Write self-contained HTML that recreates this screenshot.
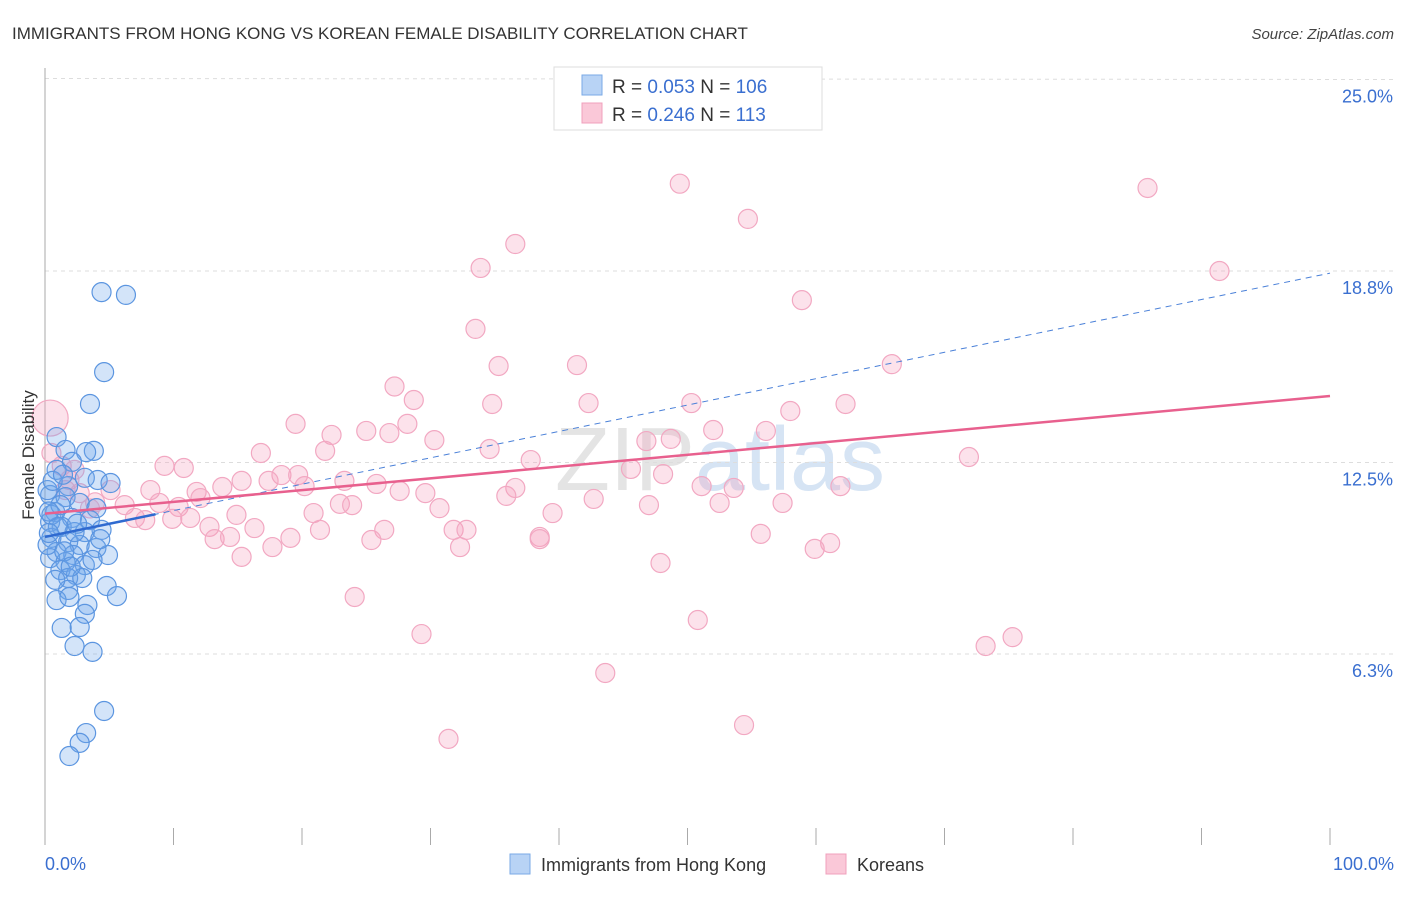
<!DOCTYPE html>
<html><head><meta charset="utf-8"><style>
body{margin:0;background:#fff;font-family:"Liberation Sans",sans-serif}
svg text{font-family:"Liberation Sans",sans-serif}
</style></head><body>
<svg id="chart" width="1406" height="892" xmlns="http://www.w3.org/2000/svg">
<text x="12" y="39" font-size="17" fill="#333">IMMIGRANTS FROM HONG KONG VS KOREAN FEMALE DISABILITY CORRELATION CHART</text>
<text x="1394" y="39" font-size="15" fill="#444" font-style="italic" text-anchor="end">Source: ZipAtlas.com</text>
<text x="720" y="490" font-size="90" fill="#e4e4e4" text-anchor="middle" font-family="Liberation Serif">ZIP<tspan fill="#d6e4f4" font-family="Liberation Sans">atlas</tspan></text>
<g id="grid"></g>
<g id="axes"></g>
<g id="pinkPts"></g>
<g id="bluePts"></g>
<g id="trends"></g>
<text transform="translate(34,455) rotate(-90)" font-size="17" fill="#333" text-anchor="middle">Female Disability</text>
<g>
<rect x="554" y="67" width="268" height="63" fill="#fff" stroke="#ddd"/>
<rect x="582" y="75" width="20" height="20" fill="#b8d3f5" stroke="#7aaae6"/>
<rect x="582" y="103" width="20" height="20" fill="#fac8d8" stroke="#f0a0bc"/>
<text x="612" y="93" font-size="19" fill="#333">R = <tspan fill="#3a6fd0">0.053</tspan>   N = <tspan fill="#3a6fd0">106</tspan></text>
<text x="612" y="121" font-size="19" fill="#333">R = <tspan fill="#3a6fd0">0.246</tspan>   N =  <tspan fill="#3a6fd0">113</tspan></text>
</g>
<g>
<rect x="510" y="854" width="20" height="20" fill="#b8d3f5" stroke="#7aaae6"/>
<text x="541" y="871" font-size="18" fill="#333">Immigrants from Hong Kong</text>
<rect x="826" y="854" width="20" height="20" fill="#fac8d8" stroke="#f0a0bc"/>
<text x="857" y="871" font-size="18" fill="#333">Koreans</text>
</g>
</svg>
<script>
const yTicks=[6.25,12.5,18.75,25];
const yTickLabels=["6.3%","12.5%","18.8%","25.0%"];
const xTickVals=[0,10,20,30,40,50,60,70,80,90,100];
const blueX=[4.4,6.3,4.6,3.5,0.9,1.6,3.8,3.2,2.1,0.9,3.1,4.1,5.1,1.8,0.4,1.6,2.7,4.0,0.8,2.1,3.5,0.4,1.3,4.4,3.1,0.5,1.8,2.7,4.0,0.9,2.2,4.9,0.4,1.6,3.1,1.2,2.4,1.8,2.9,4.8,1.8,0.9,5.6,3.3,3.1,1.3,2.7,2.3,3.7,4.6,3.2,2.7,1.9,0.2,0.5,1.2,2.3,3.7,0.8,1.9,4.3,0.2,1.0,0.3,1.5,2.5,0.6,1.4,2.0,0.3];
const blueY=[18.06,17.97,15.45,14.41,13.33,12.91,12.88,12.84,12.52,12.26,12.0,11.93,11.83,11.73,11.44,11.37,11.18,11.01,10.88,10.69,10.62,10.56,10.4,10.3,10.23,10.04,9.9,9.81,9.71,9.58,9.48,9.48,9.38,9.25,9.15,8.99,8.83,8.73,8.73,8.47,8.34,8.01,8.14,7.85,7.56,7.1,7.13,6.51,6.32,4.39,3.67,3.35,2.92,9.81,10.79,11.11,10.23,9.32,8.67,8.11,10.0,11.6,10.4,10.2,9.6,10.5,11.9,12.1,9.1,10.9];
const pinkX=[49.4,85.8,54.7,36.6,33.9,91.4,58.9,33.5,65.9,35.3,41.4,27.2,28.7,34.8,42.3,50.3,62.3,58.0,19.5,28.2,25.0,26.8,52.0,56.1,22.3,30.3,46.8,48.7,34.6,21.8,16.8,71.9,37.8,9.3,10.8,45.6,48.1,18.4,19.7,15.3,17.4,23.3,25.8,20.2,51.1,61.9,53.6,13.8,36.6,8.2,27.6,29.6,11.8,35.9,42.7,8.9,12.1,22.95,23.9,30.7,47.0,52.5,57.4,10.4,14.9,20.9,39.5,9.9,11.3,12.8,16.3,21.4,26.4,31.8,32.8,13.2,14.4,19.1,38.5,38.5,25.4,55.7,17.7,32.3,61.1,59.9,15.3,47.9,24.1,50.8,29.3,75.3,73.2,43.6,31.4,54.4,58.7,0.5,1.3,1.9,1.6,2.7,3.9,5.1,6.2,7.0,7.8,3.5,2.3];
const pinkY=[21.6,21.46,20.45,19.63,18.85,18.75,17.8,16.86,15.71,15.65,15.68,14.98,14.54,14.41,14.44,14.44,14.41,14.18,13.76,13.76,13.53,13.46,13.56,13.53,13.4,13.23,13.2,13.27,12.94,12.88,12.81,12.68,12.58,12.39,12.32,12.29,12.12,12.09,12.09,11.9,11.9,11.9,11.8,11.73,11.73,11.73,11.67,11.7,11.67,11.6,11.57,11.5,11.54,11.41,11.31,11.18,11.34,11.15,11.11,11.01,11.11,11.18,11.18,11.05,10.79,10.85,10.85,10.66,10.69,10.4,10.36,10.3,10.3,10.3,10.3,10.0,10.07,10.04,10.07,10.0,9.97,10.17,9.74,9.74,9.87,9.68,9.42,9.22,8.11,7.36,6.9,6.8,6.51,5.63,3.48,3.93,24.36,12.81,12.39,11.93,11.6,11.5,11.2,11.6,11.11,10.69,10.62,11.0,12.26];
const bigPinkX=[0.4], bigPinkY=[13.95];
const blueTrend=[10.07,0.0861];
const pinkTrend=[10.83,0.0384];
const NS="http://www.w3.org/2000/svg";
const xs=v=>45+v*12.85, ys=v=>654-(v-6.25)*30.64;
function mk(t,a,p){const e=document.createElementNS(NS,t);for(const k in a)e.setAttribute(k,a[k]);p.appendChild(e);return e;}
const grid=document.getElementById('grid');
yTicks.forEach((v,i)=>{
 const l=mk('line',{x1:45,x2:1394,y1:ys(v)-(v===25?1:0),y2:ys(v),stroke:'#ddd','stroke-dasharray':'4,4'},grid);
 
 
 const t=mk('text',{x:1393,y:ys(v)+23,'font-size':18,fill:'#3a6fd0','text-anchor':'end'},grid);
 t.textContent=yTickLabels[i];
 
 
});
const ax=document.getElementById('axes');
const yl=mk('line',{x1:45,x2:45,y1:68,y2:845,stroke:'#aaa'},ax);


xTickVals.forEach(v=>{const t=mk('line',{x1:xs(v),x2:xs(v),y1:828,y2:845,stroke:'#aaa'},ax);
 
 });
const x0=mk('text',{x:45,y:870,'font-size':18,fill:'#3a6fd0'},ax);x0.textContent='0.0%';


const x1=mk('text',{x:1394,y:870,'font-size':18,fill:'#3a6fd0','text-anchor':'end'},ax);x1.textContent='100.0%';


const pg=document.getElementById('pinkPts');
pinkX.forEach((x,i)=>{const c=mk('circle',{cx:xs(x),cy:ys(pinkY[i]),r:9.5,fill:'rgba(245,160,190,0.3)',stroke:'#f2a8c2','stroke-width':1.2},pg);
 
 });
bigPinkX.forEach((x,i)=>{const c=mk('circle',{cx:xs(x),cy:ys(bigPinkY[i]),r:18,fill:'rgba(245,160,190,0.3)',stroke:'#f2a8c2','stroke-width':1.2},pg);
 
 });
const bg=document.getElementById('bluePts');
blueX.forEach((x,i)=>{const c=mk('circle',{cx:xs(x),cy:ys(blueY[i]),r:9.5,fill:'rgba(110,165,235,0.3)',stroke:'#5b95e0','stroke-width':1.2},bg);
 
 });
const tg=document.getElementById('trends');
const bd=mk('line',{x1:xs(0),y1:ys(blueTrend[0]),x2:xs(100),y2:ys(blueTrend[0]+blueTrend[1]*100),stroke:'#4a80d8','stroke-dasharray':'6,5','stroke-width':1},tg);


const bs=mk('line',{x1:xs(0),y1:ys(blueTrend[0]),x2:xs(8.6),y2:ys(blueTrend[0]+blueTrend[1]*8.6),stroke:'#2f6ad0','stroke-width':2.5},tg);


const ps=mk('line',{x1:xs(0),y1:ys(pinkTrend[0]),x2:xs(100),y2:ys(pinkTrend[0]+pinkTrend[1]*100),stroke:'#e8608e','stroke-width':2.5},tg);


</script>
</body></html>
